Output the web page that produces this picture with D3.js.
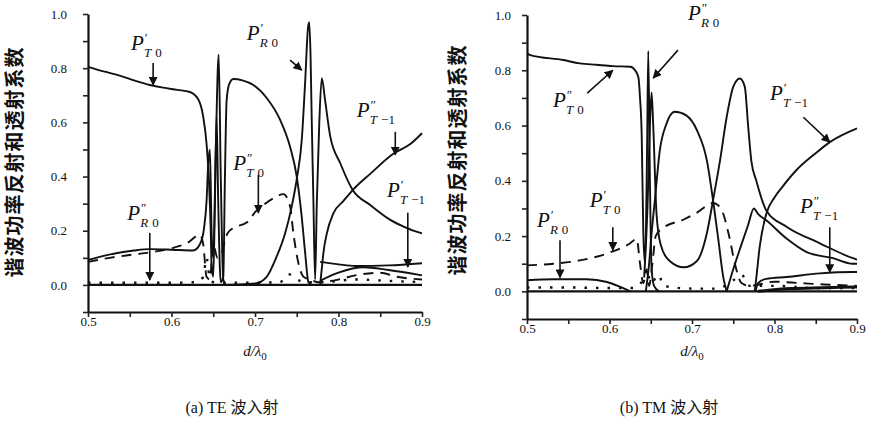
<!DOCTYPE html>
<html>
<head>
<meta charset="utf-8">
<script src="https://cdn.jsdelivr.net/npm/d3@7"></script>
<style>
  body { margin: 0; background: #fff; }
  svg text { font-family: "Liberation Serif", "Times New Roman", serif; fill: #111; }
</style>
</head>
<body>
<svg id="chart" width="872" height="448"></svg>
<script>
// tick values shared by both panels
var xTicks = [0.5, 0.55, 0.6, 0.65, 0.7, 0.75, 0.8, 0.85, 0.9];
var xLabels = [0.5, 0.6, 0.7, 0.8, 0.9];
var yTicks = [-0.1, 0, 0.1, 0.2, 0.3, 0.4, 0.5, 0.6, 0.7, 0.8, 0.9, 1.0];
var yLabels = [0, 0.2, 0.4, 0.6, 0.8, 1.0];

var yTitle = "谐波功率反射和透射系数";
var xTitle = "d/λ";

// (a) TE incidence, [d/lambda0, power]
var teT0a = [[0.50,0.805],[0.52,0.787],[0.535,0.775],[0.555,0.755],[0.574,0.738],[0.59,0.728],[0.607,0.72],[0.622,0.712],[0.632,0.685],[0.638,0.62],[0.642,0.52],[0.645,0.375],[0.647,0.2],[0.648,0.07],[0.650,0.03],[0.652,0.3],[0.654,0.62],[0.656,0.3],[0.659,0.01],[0.662,0.03],[0.664,0.4],[0.666,0.68],[0.669,0.74],[0.674,0.76],[0.685,0.755],[0.698,0.738],[0.714,0.69],[0.730,0.61],[0.742,0.51],[0.750,0.40],[0.756,0.25],[0.760,0.12],[0.764,0.01],[0.768,0.0]];
var teR0a = [[0.50,0.092],[0.52,0.108],[0.535,0.118],[0.555,0.127],[0.574,0.132],[0.60,0.13],[0.626,0.127],[0.634,0.15],[0.639,0.21],[0.642,0.31],[0.644,0.45],[0.646,0.5],[0.648,0.2],[0.650,0.1],[0.653,0.5],[0.6565,0.85],[0.659,0.4],[0.662,0.02],[0.666,0.0],[0.70,0.005],[0.714,0.03],[0.726,0.105],[0.736,0.19],[0.744,0.29],[0.750,0.39],[0.756,0.535],[0.760,0.745],[0.7635,0.95],[0.765,0.97],[0.7665,0.85],[0.768,0.6],[0.770,0.3],[0.772,0.02],[0.774,0.3],[0.777,0.6],[0.780,0.763],[0.784,0.68],[0.790,0.55],[0.802,0.45],[0.817,0.35],[0.838,0.295],[0.862,0.24],[0.882,0.21],[0.90,0.19]];
var teTm1b = [[0.778,0.0],[0.780,0.06],[0.782,0.12],[0.786,0.19],[0.794,0.265],[0.806,0.31],[0.817,0.35],[0.838,0.41],[0.866,0.485],[0.886,0.52],[0.90,0.56]];
var teT0b = [[0.50,0.085],[0.526,0.10],[0.554,0.112],[0.578,0.122],[0.60,0.135],[0.619,0.155],[0.634,0.185],[0.638,0.15],[0.642,0.03],[0.646,0.02],[0.650,0.15],[0.655,0.1],[0.66,0.12],[0.667,0.19],[0.674,0.21],[0.69,0.23],[0.702,0.275],[0.71,0.295],[0.722,0.32],[0.734,0.335],[0.742,0.29],[0.746,0.19],[0.752,0.08],[0.758,0.03],[0.766,0.02],[0.775,0.01],[0.80,0.02],[0.82,0.035],[0.85,0.045],[0.87,0.03],[0.90,0.02]];
var teR0b = [[0.50,0.008],[0.55,0.008],[0.60,0.008],[0.63,0.01],[0.638,0.03],[0.642,0.1],[0.645,0.04],[0.65,0.01],[0.66,0.008],[0.70,0.008],[0.73,0.01],[0.74,0.04],[0.75,0.02],[0.76,0.01],[0.78,0.01],[0.82,0.02],[0.86,0.015],[0.90,0.01]];
var teTm1a = [[0.778,0.085],[0.80,0.076],[0.82,0.07],[0.86,0.072],[0.90,0.08]];
var teTm1c = [[0.778,0.015],[0.80,0.045],[0.83,0.065],[0.86,0.055],[0.90,0.035]];

// (b) TM incidence
var tmT0b = [[0.50,0.86],[0.504,0.855],[0.544,0.837],[0.564,0.825],[0.584,0.82],[0.604,0.815],[0.625,0.813],[0.631,0.80],[0.635,0.775],[0.637,0.7],[0.639,0.57],[0.641,0.21],[0.643,0.1],[0.6455,0.5],[0.647,0.87],[0.649,0.4],[0.651,0.08],[0.654,0.02],[0.66,0.0]];
var tmHump1 = [[0.644,0.0],[0.648,0.1],[0.651,0.21],[0.655,0.33],[0.661,0.51],[0.669,0.606],[0.679,0.65],[0.693,0.637],[0.706,0.583],[0.718,0.474],[0.7255,0.33],[0.732,0.185],[0.738,0.05],[0.742,0.0]];
var tmHump2 = [[0.642,0.05],[0.646,0.3],[0.649,0.6],[0.651,0.72],[0.653,0.6],[0.657,0.28],[0.662,0.17],[0.673,0.11],[0.69,0.087],[0.706,0.11],[0.718,0.21],[0.7255,0.33],[0.734,0.474],[0.742,0.63],[0.75,0.74],[0.758,0.77],[0.764,0.74],[0.768,0.6],[0.772,0.47],[0.778,0.40],[0.79,0.293],[0.815,0.233],[0.855,0.174],[0.895,0.12],[0.90,0.115]];
var tmSmall = [[0.742,0.0],[0.75,0.08],[0.76,0.17],[0.768,0.24],[0.775,0.30],[0.78,0.28],[0.79,0.257],[0.815,0.19],[0.839,0.142],[0.871,0.12],[0.895,0.10],[0.90,0.10]];
var tmTm1a = [[0.776,0.0],[0.778,0.05],[0.782,0.16],[0.79,0.28],[0.80,0.34],[0.81,0.38],[0.827,0.44],[0.85,0.50],[0.867,0.54],[0.90,0.59]];
var tmTm1b = [[0.777,0.0],[0.78,0.03],[0.79,0.045],[0.815,0.052],[0.855,0.065],[0.895,0.07],[0.90,0.07]];
var tmT0a = [[0.50,0.094],[0.532,0.10],[0.564,0.112],[0.597,0.137],[0.625,0.174],[0.633,0.19],[0.637,0.1],[0.641,0.03],[0.645,0.08],[0.648,0.02],[0.652,0.1],[0.656,0.2],[0.665,0.23],[0.69,0.26],[0.706,0.285],[0.7255,0.32],[0.735,0.30],[0.745,0.2],[0.752,0.1],[0.76,0.03],[0.77,0.02],[0.80,0.035],[0.83,0.03],[0.86,0.025],[0.90,0.02]];
var tmR0a = [[0.50,0.04],[0.532,0.044],[0.572,0.044],[0.597,0.034],[0.613,0.016],[0.625,0.0]];
var tmR0b = [[0.50,0.014],[0.55,0.014],[0.60,0.012],[0.63,0.012],[0.64,0.04],[0.645,0.08],[0.65,0.03],[0.66,0.06],[0.665,0.02],[0.70,0.01],[0.73,0.01],[0.75,0.04],[0.76,0.06],[0.77,0.02],[0.80,0.02],[0.85,0.012],[0.90,0.012]];
var tmLow = [[0.78,0.0],[0.82,0.01],[0.86,0.013],[0.90,0.016]];

var svg = d3.select("#chart");

var defs = svg.append("defs");
defs.append("marker")
  .attr("id", "arrow")
  .attr("viewBox", "0 0 10 10")
  .attr("refX", 9).attr("refY", 5)
  .attr("markerWidth", 9).attr("markerHeight", 9)
  .attr("markerUnits", "userSpaceOnUse")
  .attr("orient", "auto")
  .append("path").attr("d", "M0,0 L10,5 L0,10 z").attr("fill", "#111");

function drawPanel(cfg) {
  var g = svg.append("g");
  var x = d3.scaleLinear().domain([0.5, 0.9]).range(cfg.xRange);
  var y = d3.scaleLinear().domain([-0.1, 1.0]).range(cfg.yRange);

  var yAxis = d3.axisLeft(y)
    .tickValues(yTicks)
    .tickSize(5)
    .tickSizeOuter(0)
    .tickPadding(cfg.yPad)
    .tickFormat(function (d) {
      var r = Math.round(d * 10) / 10;
      return yLabels.indexOf(r) >= 0 ? d3.format(".1f")(r) : "";
    });
  var ga = g.append("g").attr("transform", "translate(" + cfg.xRange[0] + ",0)").call(yAxis);

  var xAxis = d3.axisBottom(x)
    .tickValues(xTicks)
    .tickSize(5)
    .tickSizeOuter(0)
    .tickFormat(function (d) {
      var r = Math.round(d * 100) / 100;
      return xLabels.indexOf(r) >= 0 ? d3.format(".1f")(r) : "";
    });
  var gx = g.append("g").attr("transform", "translate(0," + y(-0.1) + ")").call(xAxis);
  gx.selectAll(".tick text").attr("y", 5);

  [ga, gx].forEach(function (a) {
    a.attr("font-family", '"Liberation Serif", serif');
    a.select(".domain").attr("stroke", "#111").attr("stroke-width", 2.2);
    a.selectAll(".tick line").attr("stroke", "#222").attr("stroke-width", 1.6);
    a.selectAll(".tick text")
      .style("font-family", '"Liberation Serif", serif')
      .style("font-size", "13px")
      .attr("fill", "#333");
  });

  var line = d3.line()
    .x(function (d) { return x(d[0]); })
    .y(function (d) { return y(d[1]); })
    .curve(d3.curveMonotoneX);

  // zero level
  g.append("line")
    .attr("x1", x(0.5)).attr("x2", x(0.9))
    .attr("y1", y(0)).attr("y2", y(0))
    .attr("stroke", "#111").attr("stroke-width", 2.2);

  cfg.series.forEach(function (s) {
    var p = g.append("path")
      .datum(s.data)
      .attr("fill", "none")
      .attr("stroke", "#111")
      .attr("stroke-width", s.width || 1.9)
      .attr("stroke-linejoin", "round")
      .attr("d", line);
    if (s.type === "dash") p.attr("stroke-dasharray", "10,7");
    if (s.type === "dot") p.attr("stroke-dasharray", "2.5,9").attr("stroke-width", 2.4);
  });

  cfg.arrows.forEach(function (a) {
    g.append("line")
      .attr("x1", x(a[0][0])).attr("y1", y(a[0][1]))
      .attr("x2", x(a[1][0])).attr("y2", y(a[1][1]))
      .attr("stroke", "#111").attr("stroke-width", 1.6)
      .attr("marker-end", "url(#arrow)");
  });

  cfg.labels.forEach(function (l) {
    var px = x(l.at[0]), py = y(l.at[1]);
    g.append("text").attr("x", px).attr("y", py)
      .attr("font-style", "italic").attr("font-size", 21).text("P");
    g.append("text").attr("x", px + 13).attr("y", py - 8)
      .attr("font-style", "italic").attr("font-size", 13).text(l.prime);
    var t = g.append("text").attr("x", px + 13).attr("y", py + 7).attr("font-size", 13);
    t.append("tspan").attr("font-style", "italic").text(l.sub[0]);
    t.append("tspan").attr("dx", 4).text(l.sub[1]);
  });

  // axis titles
  g.append("text")
    .attr("transform", "translate(" + cfg.yTitleX + "," + cfg.yTitleY + ") rotate(-90)")
    .attr("text-anchor", "middle")
    .style("font-family", '"Noto Sans CJK SC", sans-serif')
    .style("font-weight", "700")
    .style("font-size", "20px")
    .style("letter-spacing", "1px")
    .text(yTitle);

  var xt = g.append("text")
    .attr("x", x(0.7)).attr("y", cfg.xTitleY)
    .attr("text-anchor", "middle")
    .style("font-size", "15px");
  xt.append("tspan").attr("font-style", "italic").text(xTitle);
  xt.append("tspan").attr("dy", 4).style("font-size", "11px").text("0");

  g.append("text")
    .attr("x", cfg.capX).attr("y", cfg.capY)
    .attr("text-anchor", "middle")
    .style("font-family", '"Liberation Serif", "Noto Sans CJK SC", serif')
    .style("font-size", "16px")
    .text(cfg.caption);
}

drawPanel({
  xRange: [88, 422], yRange: [312, 14], yPad: 16,
  yTitleX: 22, yTitleY: 162, xTitleY: 356, capX: 232, capY: 413,
  caption: "(a) TE 波入射",
  series: [
    { data: teT0a }, { data: teR0a }, { data: teTm1b },
    { data: teT0b, type: "dash" }, { data: teR0b, type: "dot" },
    { data: teTm1a }, { data: teTm1c }
  ],
  arrows: [
    [[0.578, 0.819], [0.578, 0.738]],
    [[0.742, 0.83], [0.756, 0.793]],
    [[0.868, 0.565], [0.868, 0.48]],
    [[0.704, 0.406], [0.704, 0.266]],
    [[0.883, 0.266], [0.883, 0.066]],
    [[0.574, 0.192], [0.574, 0.018]]
  ],
  labels: [
    { at: [0.5515, 0.867], prime: "′", sub: ["T", "0"] },
    { at: [0.690, 0.904], prime: "′", sub: ["R", "0"] },
    { at: [0.822, 0.62], prime: "″", sub: ["T", "−1"] },
    { at: [0.674, 0.424], prime: "″", sub: ["T", "0"] },
    { at: [0.858, 0.325], prime: "′", sub: ["T", "−1"] },
    { at: [0.547, 0.24], prime: "″", sub: ["R", "0"] }
  ]
});

drawPanel({
  xRange: [527, 857], yRange: [319, 15], yPad: 11,
  yTitleX: 465, yTitleY: 160, xTitleY: 356, capX: 669, capY: 413,
  caption: "(b) TM 波入射",
  series: [
    { data: tmT0b }, { data: tmHump1 }, { data: tmHump2 }, { data: tmSmall },
    { data: tmTm1a }, { data: tmTm1b }, { data: tmT0a, type: "dash" },
    { data: tmR0a }, { data: tmR0b, type: "dot" }, { data: tmLow, width: 3 }
  ],
  arrows: [
    [[0.683, 0.873], [0.653, 0.772]],
    [[0.573, 0.717], [0.604, 0.80]],
    [[0.835, 0.63], [0.867, 0.54]],
    [[0.604, 0.232], [0.604, 0.149]],
    [[0.54, 0.185], [0.54, 0.05]],
    [[0.867, 0.232], [0.867, 0.069]]
  ],
  labels: [
    { at: [0.695, 0.982], prime: "″", sub: ["R", "0"] },
    { at: [0.5315, 0.667], prime: "″", sub: ["T", "0"] },
    { at: [0.7945, 0.692], prime: "′", sub: ["T", "−1"] },
    { at: [0.576, 0.304], prime: "′", sub: ["T", "0"] },
    { at: [0.512, 0.232], prime: "′", sub: ["R", "0"] },
    { at: [0.831, 0.283], prime: "″", sub: ["T", "−1"] }
  ]
});
</script>
</body>
</html>
